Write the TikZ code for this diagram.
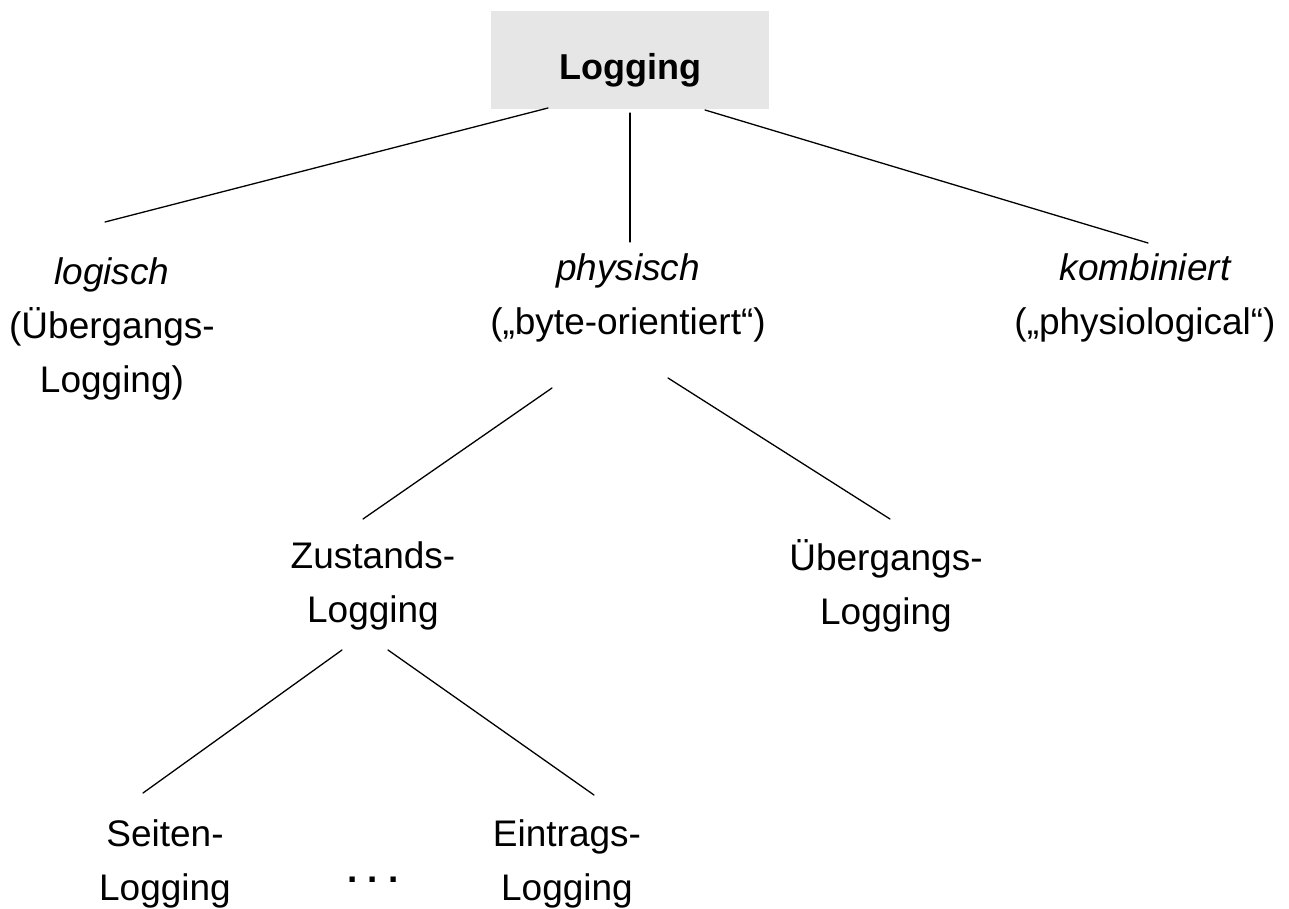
\documentclass[tikz,border=0pt]{standalone}
\usepackage{fontspec}
\setmainfont{Liberation Sans}
\definecolor{rootfill}{RGB}{230,230,230}
\begin{document}
\begin{tikzpicture}[x=1pt,y=-1pt,
  lbl/.style={align=center, inner sep=0pt, font=\fontsize{37}{54}\selectfont},
  branch/.style={line width=1.3pt, line cap=round}]
\useasboundingbox (0,0) rectangle (1289,909);

% root box
\node[fill=rootfill, minimum width=278pt, inner sep=0pt,
      text height=69pt, text depth=29pt,
      font=\fontsize{36}{43}\selectfont\bfseries] (root) at (630,60) {Logging};

% first level
\node[lbl] (logisch) at (112,329) {\itshape logisch\\(Übergangs-\\Logging)};
\node[lbl] (physisch) at (628,298) {\itshape physisch\\(„byte-orientiert“)};
\node[lbl] (kombiniert) at (1145,298) {\itshape kombiniert\\(„physiological“)};

% second level
\node[lbl] (zustand) at (373,586) {Zustands-\\Logging};
\node[lbl] (uebergang) at (886,586) {Übergangs-\\Logging};

% third level
\node[lbl] (seiten) at (165,864) {Seiten-\\Logging};
\node[lbl, font=\fontsize{37}{54}\selectfont\bfseries] (dots) at (373,880)
  {.\hspace{10pt}.\hspace{10pt}.};
\node[lbl] (eintrag) at (567,864) {Eintrags-\\Logging};

% connector end points
\coordinate (root-l) at (548,108);
\coordinate (root-m) at (630,113);
\coordinate (root-r) at (705,110);
\coordinate (logisch-t) at (105,222);
\coordinate (physisch-t) at (630,242);
\coordinate (kombiniert-t) at (1148,243);
\coordinate (physisch-bl) at (552,388);
\coordinate (physisch-br) at (668,378);
\coordinate (zustand-t) at (363,519);
\coordinate (uebergang-t) at (890,519);
\coordinate (zustand-bl) at (342,650);
\coordinate (zustand-br) at (388,650);
\coordinate (seiten-t) at (143,793);
\coordinate (eintrag-t) at (594,795);

% connectors
\draw[branch] (root-l) -- (logisch-t);
\draw[branch] (root-m) -- (physisch-t);
\draw[branch] (root-r) -- (kombiniert-t);
\draw[branch] (physisch-bl) -- (zustand-t);
\draw[branch] (physisch-br) -- (uebergang-t);
\draw[branch] (zustand-bl) -- (seiten-t);
\draw[branch] (zustand-br) -- (eintrag-t);
\end{tikzpicture}
\end{document}
